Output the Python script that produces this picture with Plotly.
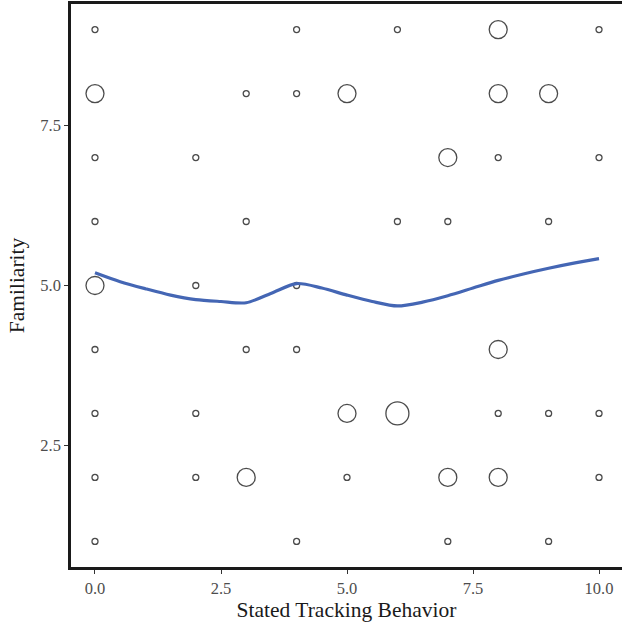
import plotly.graph_objects as go

# Points: stated tracking behaviour (x), familiarity (y), count of responses (n)
pt_x = [0, 4, 6, 8, 10,
        0, 3, 4, 5, 8, 9,
        0, 2, 7, 8, 10,
        0, 3, 6, 7, 9,
        0, 2, 4,
        0, 3, 4, 8,
        0, 2, 5, 6, 8, 9, 10,
        0, 2, 3, 5, 7, 8, 10,
        0, 4, 7, 9]
pt_y = [9, 9, 9, 9, 9,
        8, 8, 8, 8, 8, 8,
        7, 7, 7, 7, 7,
        6, 6, 6, 6, 6,
        5, 5, 5,
        4, 4, 4, 4,
        3, 3, 3, 3, 3, 3, 3,
        2, 2, 2, 2, 2, 2, 2,
        1, 1, 1, 1]
pt_n = [1, 1, 1, 2, 1,
        2, 1, 1, 2, 2, 2,
        1, 1, 2, 1, 1,
        1, 1, 1, 1, 1,
        2, 1, 1,
        1, 1, 1, 2,
        1, 1, 2, 3, 1, 1, 1,
        1, 1, 2, 1, 2, 2, 1,
        1, 1, 1, 1]

# Smoothed trend line
smooth_x = [0, 0.5, 1, 1.5, 2, 2.5, 3, 3.5, 4, 4.5, 5, 5.5, 6, 6.5, 7, 7.5, 8, 8.5, 9, 9.5, 10]
smooth_y = [5.20, 5.06, 4.95, 4.85, 4.78, 4.75, 4.73, 4.88, 5.03, 4.96, 4.85, 4.75, 4.68,
            4.74, 4.84, 4.96, 5.08, 5.18, 5.27, 5.35, 5.42]

x_ticks = [0, 2.5, 5, 7.5, 10]
y_ticks = [2.5, 5, 7.5]

size_map = {1: 6, 2: 18, 3: 23}
sizes = [size_map[n] for n in pt_n]

FONT = "Liberation Serif"

fig = go.Figure()
fig.add_trace(go.Scatter(
    x=pt_x, y=pt_y, mode="markers",
    marker=dict(size=sizes, color="rgba(0,0,0,0)", line=dict(color="black", width=1.3)),
    showlegend=False, hoverinfo="x+y+text", text=[f"n={n}" for n in pt_n],
))
fig.add_trace(go.Scatter(
    x=smooth_x, y=smooth_y, mode="lines",
    line=dict(color="#4466B4", width=3.2, shape="spline", smoothing=0.8),
    showlegend=False,
))

axis_common = dict(
    showgrid=False, zeroline=False, showline=True, linecolor="#1a1a1a", linewidth=2.5,
    ticks="outside", ticklen=4, tickwidth=1.4, tickcolor="#333333",
    tickfont=dict(family=FONT, size=16.5, color="#4D4D4D"),
)

fig.update_xaxes(
    range=[-0.476, 10.456], tickvals=x_ticks, tickformat=".1f", mirror=True,
    title=dict(text="Stated Tracking Behavior", font=dict(family=FONT, size=21.5, color="#1a1a1a"), standoff=1),
    automargin=False,
    **axis_common,
)
fig.update_yaxes(
    range=[0.6, 9.4], tickvals=y_ticks, tickformat=".1f", mirror=False,
    title=dict(text="Familiarity", font=dict(family=FONT, size=21.5, color="#1a1a1a"), standoff=10),
    automargin=False,
    **axis_common,
)

fig.update_layout(
    width=622, height=622,
    margin=dict(l=71, r=0, t=4, b=55),
    plot_bgcolor="white", paper_bgcolor="white",
    font=dict(family=FONT),
)

fig.write_html(
    "out.html",
    config={"displayModeBar": False},
    post_script="document.body.style.margin='0';document.body.style.overflow='hidden';",
)
